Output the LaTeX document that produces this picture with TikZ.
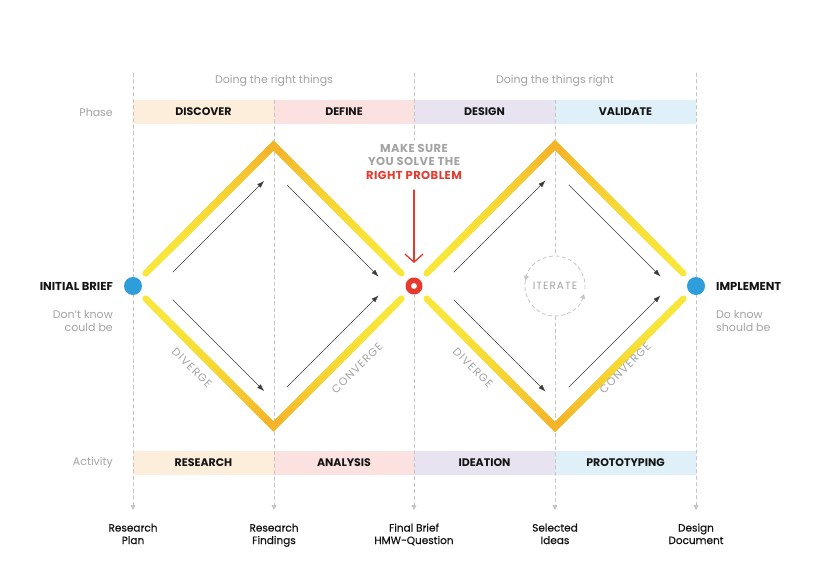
\documentclass[tikz,border=0pt]{standalone}
\usepackage{fontspec}
\setmainfont{Poppins}
\newfontfamily\spacedfont{Poppins}[LetterSpace=10]
\newfontfamily\capsfont{Poppins}[LetterSpace=4]
\newfontfamily\mediumfont{Poppins}[FakeBold=0.5]
\usetikzlibrary{arrows.meta,calc}

\definecolor{txtgray}{HTML}{A3A3A3}
\definecolor{guidegray}{HTML}{C6C6C6}
\definecolor{inkblack}{HTML}{141414}
\definecolor{discover}{HTML}{FDEEDC}
\definecolor{define}{HTML}{FCE1E1}
\definecolor{design}{HTML}{E7E3F0}
\definecolor{validate}{HTML}{DFF0F8}
\definecolor{yelline}{HTML}{F8E73A}
\definecolor{orngline}{HTML}{F5B52B}
\definecolor{redmark}{HTML}{E63A2E}
\definecolor{bluedot}{HTML}{2E9DD9}
\definecolor{arrowgray}{HTML}{3C3C3C}

\tikzset{
  bandbox/.style={minimum width=140.5pt,minimum height=24.5pt,inner sep=0pt,
    font=\fontsize{11}{12}\selectfont\bfseries,text=inkblack},
  graytext/.style={text=txtgray,inner sep=0pt,font=\fontsize{11}{13}\selectfont},
  boldlbl/.style={text=inkblack,inner sep=0pt,font=\fontsize{11.5}{13}\selectfont\bfseries},
  outlbl/.style={text=inkblack,font=\mediumfont\fontsize{10.5}{12.5}\selectfont,align=center,anchor=base},
  slant/.style={text=txtgray,font=\spacedfont\fontsize{11}{12}\selectfont},
  guide/.style={guidegray,line width=0.8pt,dash pattern=on 3.5pt off 3pt},
  guideend/.style={guide,-{Triangle[length=5pt,width=5pt]}},
  flow/.style={arrowgray,line width=0.5pt,-{Latex[length=7pt,width=5pt]}},
  vee/.style={line width=6.5pt,line cap=round,line join=miter},
  endpoint/.style={circle,fill=bluedot,minimum size=18pt,inner sep=0pt},
  pinarrow/.style={redmark,line width=1.3pt,-{Straight Barb[length=8pt,width=18pt]}}
}

% one yellow V, fading to orange at its corner
\newcommand{\gradvee}[3]{%
  \foreach \k in {0,...,24}{%
    \pgfmathsetmacro{\f}{0.09+0.036*\k}%
    \pgfmathtruncatemacro{\m}{100-100*(\k/24)^2}%
    \draw[vee,draw=yelline!\m!orngline] ($(#1)!\f!(#2)$) -- (#2) -- ($(#3)!\f!(#2)$);
  }}

\begin{document}
\begin{tikzpicture}[x=1pt,y=-1pt,line cap=round,line join=round]
  \fill[white] (0,0) rectangle (828,586);
  \useasboundingbox (0,0) rectangle (828,586);

  % phase and activity bands
  \node[bandbox,fill=discover] (discover) at (203.5,112) {DISCOVER};
  \node[bandbox,fill=define] (define) at (344,112) {DEFINE};
  \node[bandbox,fill=design] (design) at (484.5,112) {DESIGN};
  \node[bandbox,fill=validate] (validate) at (625.5,112) {VALIDATE};
  \node[bandbox,fill=discover] (research) at (203.5,463) {RESEARCH};
  \node[bandbox,fill=define] (analysis) at (344,463) {ANALYSIS};
  \node[bandbox,fill=design] (ideation) at (484.5,463) {IDEATION};
  \node[bandbox,fill=validate] (prototyping) at (625.5,463) {PROTOTYPING};

  \coordinate (L) at (133,286);
  \coordinate (T1) at (273.5,145.5);
  \coordinate (B1) at (273.5,426.5);
  \coordinate (C) at (414,286);
  \coordinate (T2) at (555,145);
  \coordinate (B2) at (555,427);
  \coordinate (R) at (696,286);
  \coordinate (pin) at (414,190);

  \node[circle,draw=redmark,line width=5.5pt,fill=white,minimum size=11.5pt,inner sep=0pt] (focus) at (C) {};
  \node[circle,minimum size=60pt,inner sep=0pt,text=txtgray,font=\spacedfont\fontsize{10.5}{11}\selectfont] (iterate) at (555,286) {ITERATE};
  \node[font=\capsfont\fontsize{11.5}{13.5}\selectfont\bfseries,text=txtgray,align=center,anchor=base] (problem) at (414,179)
    {MAKE SURE\\YOU SOLVE THE\\\textcolor{redmark}{RIGHT PROBLEM}};

  % dashed guides
  \draw[guideend] (133,73) -- (133,510);
  \draw[guideend] (274,100) -- (274,510);
  \draw[guide] (414,73) -- (problem.north);
  \draw[guideend] (focus.south) -- (414,510);
  \draw[guide] (555,100) -- (iterate.north);
  \draw[guideend] (iterate.south) -- (555,510);
  \draw[guideend] (696,73) -- (696,510);

  % iterate loop
  \draw[guideend] (iterate.center) ++(5:30) arc[start angle=5,end angle=-170,radius=30];
  \draw[guideend] (iterate.center) ++(-170:30) arc[start angle=-170,end angle=-345,radius=30];

  % double diamond
  \gradvee{L}{T1}{C}
  \gradvee{L}{B1}{C}
  \gradvee{C}{T2}{R}
  \gradvee{C}{B2}{R}

  \foreach \p/\q/\dx/\dy in {L/T1/13/13,T1/C/-13/13,L/B1/13/-13,B1/C/-13/-13,
                              C/T2/13/13,T2/R/-13/13,C/B2/13/-13,B2/R/-13/-13}
    \draw[flow] ($(\p)!0.19!(\q)+(\dx,\dy)$) -- ($(\p)!0.84!(\q)+(\dx,\dy)$);

  \node[slant,rotate=-45] (div1) at (192,368) {DIVERGE};
  \node[slant,rotate=45] (conv1) at (357,368) {CONVERGE};
  \node[slant,rotate=-45] (div2) at (473,368) {DIVERGE};
  \node[slant,rotate=45] (conv2) at (625,368) {CONVERGE};

  \node[endpoint] (brief) at (L) {};
  \node[endpoint] (implement) at (R) {};
  \draw[pinarrow,shorten >=14.5pt] (pin) -- (focus.north);

  % labels
  \node[boldlbl,anchor=east] (brieflbl) at (113,286) {INITIAL BRIEF};
  \node[graytext,anchor=base east,align=right] (briefnote) at (113,331) {Don't know\\could be};
  \node[boldlbl,anchor=west] (impllbl) at (716,286) {IMPLEMENT};
  \node[graytext,anchor=base west,align=left] (implnote) at (716,331) {Do know\\should be};
  \node[graytext,anchor=east] (phaselbl) at (113,112) {Phase};
  \node[graytext,anchor=east] (activitylbl) at (113,463) {Activity};
  \node[graytext] (rightthings) at (274,81) {Doing the right things};
  \node[graytext] (thingsright) at (555,81) {Doing the things right};

  \node[outlbl] (plan) at (133,544) {Research\\Plan};
  \node[outlbl] (findings) at (274,544) {Research\\Findings};
  \node[outlbl] (finalbrief) at (414,544) {Final Brief\\HMW-Question};
  \node[outlbl] (ideas) at (555,544) {Selected\\Ideas};
  \node[outlbl] (document) at (696,544) {Design\\Document};
\end{tikzpicture}
\end{document}
